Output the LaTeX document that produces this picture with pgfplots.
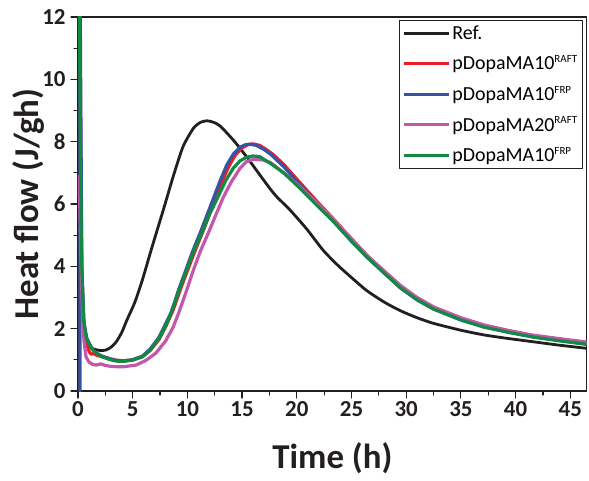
\documentclass[border=0pt]{standalone}
\usepackage{pgfplots}
\pgfplotsset{compat=1.18}
\usepackage{fontspec}
\setmainfont{Carlito}
\definecolor{cblack}{RGB}{35,31,32}
\definecolor{cred}{RGB}{237,28,36}
\definecolor{cblue}{RGB}{57,83,164}
\definecolor{cmag}{RGB}{193,88,172}
\definecolor{cgreen}{RGB}{19,138,67}
\newcommand{\sups}[1]{\raisebox{0.75ex}{\fontsize{11}{11}\selectfont #1}}
\begin{document}
\begin{tikzpicture}
\path[use as bounding box] (-78bp,-90bp) rectangle (511bp,391bp);
\begin{axis}[
  scale only axis,
  width=508.7bp, height=374bp,
  xmin=0, xmax=46.5, ymin=0, ymax=12,
  xtick={0,5,...,45}, ytick={0,2,...,12},
  minor x tick num=1, minor y tick num=1,
  tick pos=left, tick align=outside,
  major tick length=7bp, minor tick length=4bp,
  axis line style={line width=1.5bp, cblack},
  every tick/.style={line width=1.2bp, cblack},
  /pgf/number format/assume math mode=true,
  tick label style={font=\bfseries\fontsize{23}{23}\selectfont, text=cblack},
  yticklabel style={xshift=-2bp},
  xlabel={Time (h)}, ylabel={Heat flow (J/gh)},
  label style={font=\bfseries\fontsize{35}{35}\selectfont, text=cblack},
  xlabel style={at={(axis description cs:0.5,0)}, anchor=base, yshift=-77bp},
  ylabel style={at={(axis description cs:-0.098,0.5)}, anchor=center},
  legend style={at={(axis description cs:0.992,0.992)}, anchor=north east,
    draw=cblack, line width=1bp, font=\fontsize{20}{24}\selectfont,
    inner sep=3bp, row sep=11bp, cells={anchor=west}},
  legend image code/.code={\draw[#1, line width=3bp] (0bp,0bp) -- (45bp,0bp);},
  line join=round, line cap=round,
]
\addplot[cblack, line width=2.8bp, smooth, tension=0.4] table {
1.0 1.43
1.5 1.34
2.0 1.30
2.5 1.31
3.0 1.40
3.5 1.58
4.0 1.88
4.5 2.30
5.2 2.85
5.9 3.58
6.6 4.42
7.2 5.12
7.8 5.81
8.7 6.88
9.6 7.84
10.55 8.43
11.2 8.62
11.8 8.67
12.4 8.62
13.0 8.50
14.2 8.05
15.4 7.52
16.65 6.92
17.6 6.47
18.2 6.22
19.4 5.80
20.9 5.20
22.4 4.52
23.7 4.05
24.9 3.67
26.4 3.22
28.0 2.85
29.5 2.57
31.0 2.35
32.5 2.17
35.0 1.95
37.1 1.80
39.0 1.70
41.6 1.58
44.0 1.47
46.5 1.37
};
\addlegendentry{Ref.}
\addplot[cred, line width=3.2bp] table {
0.15 12.5
0.35 3.8
0.55 2.0
0.8 1.5
1.03 1.26
1.2 1.18
1.45 1.20
1.7 1.15
2.2 1.10
2.9 1.03
3.5 0.99
4.1 0.97
5.0 1.00
5.9 1.10
6.6 1.30
7.4 1.65
8.0 2.05
8.7 2.60
9.4 3.30
10.1 3.95
10.7 4.50
11.4 5.10
12.0 5.65
12.6 6.20
13.2 6.75
13.8 7.22
14.4 7.58
15.0 7.80
15.5 7.90
16.0 7.93
16.6 7.88
17.2 7.75
17.8 7.60
18.8 7.27
20.3 6.68
21.8 6.10
23.4 5.50
24.9 4.92
26.4 4.35
28.0 3.82
29.5 3.36
31.0 2.98
32.5 2.68
35.0 2.33
37.1 2.10
39.5 1.92
41.6 1.78
44.0 1.66
46.5 1.55
};
\addlegendentry{pDopaMA10\sups{RAFT}}
\addplot[cblue, line width=3.2bp] table {
0.18 0
0.19 13
0.35 4.0
0.55 2.2
0.8 1.7
1.03 1.53
1.3 1.35
1.65 1.22
2.2 1.12
2.9 1.04
3.5 0.98
4.1 0.96
5.0 1.00
5.9 1.12
6.6 1.35
7.4 1.72
8.0 2.15
8.5 2.50
9.2 3.25
9.9 3.92
10.5 4.50
11.2 5.10
11.8 5.65
12.4 6.20
13.0 6.75
13.6 7.25
14.2 7.60
14.8 7.82
15.3 7.90
15.7 7.92
16.3 7.88
17.0 7.75
17.6 7.60
18.8 7.20
20.3 6.60
21.8 6.02
23.4 5.42
24.9 4.85
26.4 4.30
28.0 3.78
29.5 3.30
31.0 2.92
32.5 2.63
35.0 2.28
37.1 2.06
39.5 1.88
41.6 1.74
44.0 1.62
46.5 1.50
};
\addlegendentry{pDopaMA10\sups{FRP}}
\addplot[cmag, line width=3.2bp] table {
0.0 6.9
0.12 6.7
0.25 4.5
0.4 2.6
0.55 1.6
0.73 1.1
1.0 0.93
1.3 0.86
1.65 0.83
2.1 0.87
2.5 0.82
3.0 0.79
3.5 0.78
4.2 0.78
5.3 0.83
6.2 0.98
7.1 1.21
8.0 1.60
8.7 2.05
9.2 2.50
9.9 3.20
10.55 3.88
11.2 4.50
11.9 5.06
12.6 5.65
13.3 6.23
14.0 6.70
14.8 7.14
15.4 7.36
16.0 7.43
16.8 7.42
17.6 7.33
18.8 7.00
20.3 6.55
21.8 6.05
23.4 5.48
24.9 4.92
26.4 4.36
28.0 3.85
29.5 3.38
31.0 3.00
32.5 2.70
35.0 2.35
37.1 2.12
39.5 1.93
41.6 1.79
44.0 1.68
46.5 1.57
};
\addlegendentry{pDopaMA20\sups{RAFT}}
\addplot[cgreen, line width=3.2bp] table {
0.08 13
0.12 12.5
0.3 4.5
0.5 2.3
0.75 1.7
1.03 1.50
1.3 1.35
1.65 1.22
2.2 1.10
2.9 1.01
3.5 0.96
4.1 0.95
5.0 0.99
5.9 1.10
6.6 1.32
7.4 1.68
8.0 2.08
8.5 2.50
9.2 3.20
9.9 3.85
10.6 4.50
11.3 5.06
12.0 5.65
12.8 6.23
13.5 6.75
14.2 7.15
14.8 7.38
15.4 7.50
16.0 7.54
16.6 7.52
17.6 7.30
18.8 7.00
20.3 6.50
21.8 5.97
23.4 5.42
24.9 4.84
26.4 4.30
28.0 3.78
29.5 3.30
31.0 2.93
32.5 2.63
35.0 2.28
37.1 2.05
39.5 1.87
41.6 1.73
44.0 1.61
46.5 1.50
};
\addlegendentry{pDopaMA10\sups{FRP}}
\end{axis}
\end{tikzpicture}
\end{document}
